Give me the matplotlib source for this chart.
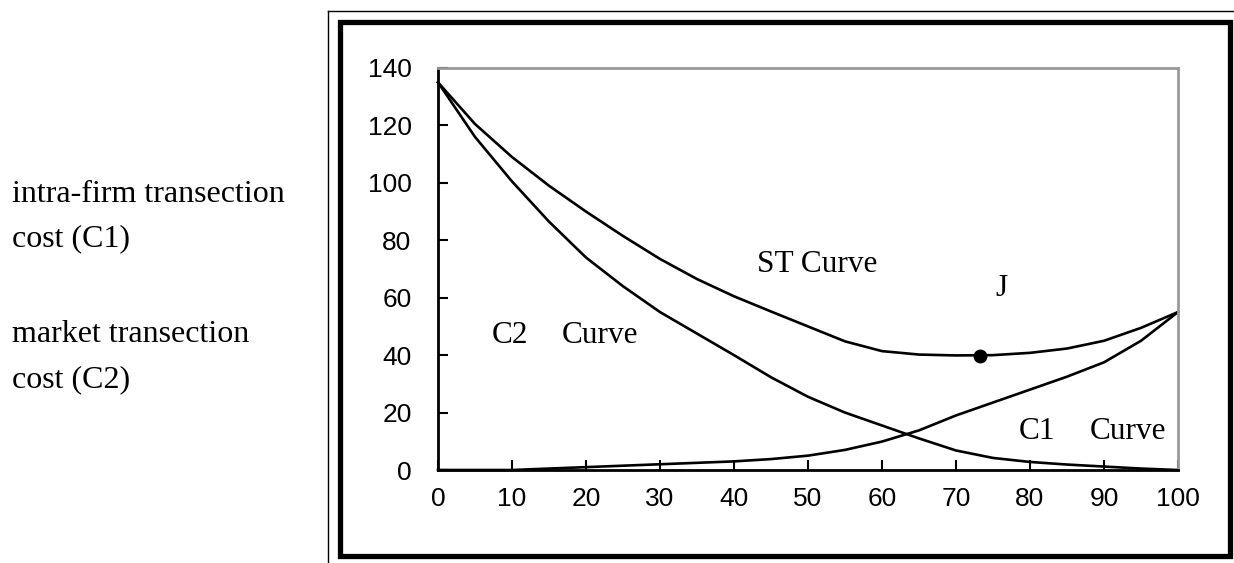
import numpy as np
import matplotlib.pyplot as plt
from matplotlib.lines import Line2D
from matplotlib.patches import Rectangle

# ---------------- DATA ----------------
x = [0, 5, 10, 15, 20, 25, 30, 35, 40, 45, 50, 55, 60, 65, 70, 75, 80, 85, 90, 95, 100]
st_curve = [135, 120.5, 109, 99, 90, 81.5, 73.5, 66.5, 60.5, 55.2, 50, 44.8, 41.4, 40.2, 39.9, 40, 40.8, 42.3, 45, 49.5, 55]
c2_curve = [135, 116, 100.5, 86.5, 74, 64, 55, 47.5, 40, 32.3, 25.5, 20, 15.5, 11, 6.8, 4.2, 2.8, 1.9, 1.2, 0.5, 0]
c1_curve = [0, 0, 0, 0.5, 1, 1.5, 2, 2.5, 3, 3.8, 5, 7, 9.9, 13.8, 19, 23.5, 28, 32.5, 37.5, 45, 55]
j_point = (73.2, 39.6)

x_ticks = [0, 10, 20, 30, 40, 50, 60, 70, 80, 90, 100]
y_ticks = [0, 20, 40, 60, 80, 100, 120, 140]

W, H = 1234, 563
fig = plt.figure(figsize=(W / 100, H / 100), dpi=100)

serif = ['Liberation Serif', 'DejaVu Serif']
sans = ['Liberation Sans', 'DejaVu Sans']

# ---------------- FRAMES ----------------
fig.add_artist(Line2D([328 / W, 328 / W], [0, 1 - 11 / H], color='black', lw=1.0))
fig.add_artist(Line2D([328 / W, 1], [1 - 11 / H, 1 - 11 / H], color='black', lw=1.0))
fig.add_artist(Rectangle((340 / W, 1 - 556 / H), (1230 - 340) / W, (556 - 22) / H,
                         fill=False, edgecolor='black', lw=3.8, transform=fig.transFigure))

# ---------------- AXES ----------------
ax = fig.add_axes([438 / W, 93 / H, 740 / W, 402 / H])
ax.plot(x, st_curve, color='black', lw=1.9, clip_on=False)
ax.plot(x, c2_curve, color='black', lw=1.9, clip_on=False)
ax.plot(x, c1_curve, color='black', lw=1.9, clip_on=False)
ax.plot([j_point[0]], [j_point[1]], 'o', color='black', markersize=9, zorder=5)

ax.set_xlim(0, 100)
ax.set_ylim(0, 140)
ax.set_xticks(x_ticks)
ax.set_yticks(y_ticks)
ax.tick_params(direction='in', length=7, width=1.5, labelsize=19, color='black')
ax.tick_params(axis='y', pad=19)
ax.tick_params(axis='x', pad=12)
for lab in ax.get_xticklabels() + ax.get_yticklabels():
    lab.set_family(sans)

for side in ['left', 'bottom']:
    ax.spines[side].set_color('black')
    ax.spines[side].set_linewidth(2)
for side in ['top', 'right']:
    ax.spines[side].set_color('#999999')
    ax.spines[side].set_linewidth(2)

# annotations inside the plot
ax.text(51.2, 71.7, 'ST Curve', family=serif, fontsize=22.5, ha='center', va='center')
ax.text(76.2, 63.3, 'J', family=serif, fontsize=22.5, ha='center', va='center')
ax.text(9.7, 47, 'C2', family=serif, fontsize=22.5, ha='center', va='center')
ax.text(21.9, 47, 'Curve', family=serif, fontsize=22.5, ha='center', va='center')
ax.text(81, 13.3, 'C1', family=serif, fontsize=22.5, ha='center', va='center')
ax.text(93.3, 13.3, 'Curve', family=serif, fontsize=22.5, ha='center', va='center')

# labels on the left
fig.text(12 / W, 1 - 194 / H, 'intra-firm transection', family=serif, fontsize=23, va='center')
fig.text(12 / W, 1 - 239 / H, 'cost (C1)', family=serif, fontsize=23, va='center')
fig.text(12 / W, 1 - 334 / H, 'market transection', family=serif, fontsize=23, va='center')
fig.text(12 / W, 1 - 380 / H, 'cost (C2)', family=serif, fontsize=23, va='center')

fig.savefig('out.png', dpi=100)
